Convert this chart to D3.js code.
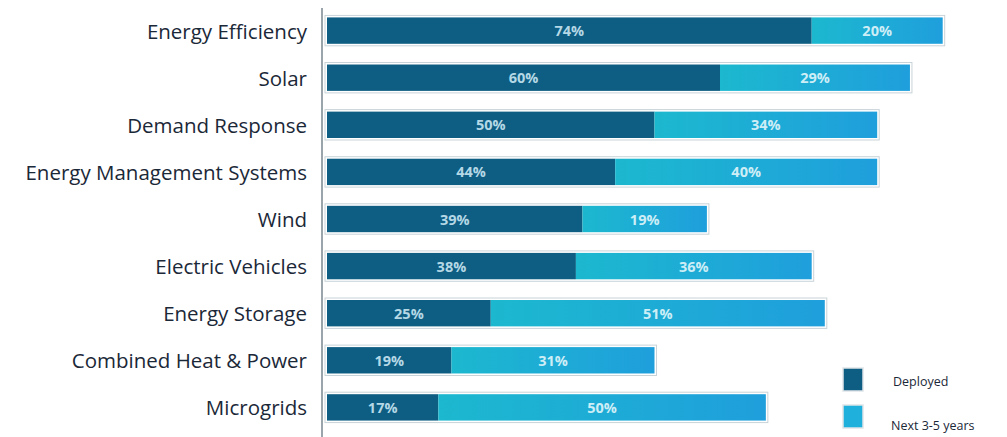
<!DOCTYPE html>
<html><head><meta charset="utf-8">
<script src="https://cdn.jsdelivr.net/npm/d3@7"></script>
<style>body{margin:0;background:#fff}svg{display:block}</style>
</head><body>
<svg id="c" width="1007" height="437"></svg>
<script>
const categories = ["Energy Efficiency","Solar","Demand Response","Energy Management Systems","Wind","Electric Vehicles","Energy Storage","Combined Heat & Power","Microgrids"];
const deployed = [74,60,50,44,39,38,25,19,17];
const nextYears = [20,29,34,40,19,36,51,31,50];
const seriesNames = ["Deployed","Next 3-5 years"];
const colors = ["#0d5e82","#1eaed8"];

const svg = d3.select("#c");
const x = d3.scaleLinear().domain([0,100]).range([327, 982]);
const y = d3.scaleBand().domain(categories).range([8, 430]).paddingInner(0.44).paddingOuter(0.2);

const defs = svg.append("defs");
const g = defs.append("linearGradient").attr("id","lg").attr("x1","0").attr("x2","1");
g.append("stop").attr("offset","0").attr("stop-color","#1cb8cf");
g.append("stop").attr("offset","1").attr("stop-color","#1f9fdc");

// category labels
svg.append("g").selectAll("text").data(categories).join("text")
  .attr("x", 307).attr("y", d => y(d) + y.bandwidth()/2)
  .attr("text-anchor","end").attr("dominant-baseline","central")
  .attr("font-family","'Open Sans', sans-serif").attr("font-size",20.5).attr("fill","#1b2838")
  .text(d => d);

// faint outlines
svg.append("g").selectAll("rect").data(categories).join("rect")
  .attr("x", x(0)-2).attr("y", d => y(d)-2)
  .attr("width", (d,i) => x(deployed[i]+nextYears[i]) - x(0) + 4)
  .attr("height", y.bandwidth()+4)
  .attr("fill","none").attr("stroke","#c8d3d8").attr("stroke-width",1);

const rows = svg.append("g").selectAll("g").data(categories).join("g");
rows.append("rect").attr("x", x(0)).attr("y", d => y(d))
  .attr("width", (d,i) => x(deployed[i]) - x(0)).attr("height", y.bandwidth())
  .attr("fill", colors[0]);
rows.append("rect").attr("x", (d,i) => x(deployed[i])).attr("y", d => y(d))
  .attr("width", (d,i) => x(deployed[i]+nextYears[i]) - x(deployed[i])).attr("height", y.bandwidth())
  .attr("fill", "url(#lg)");
rows.append("text").attr("x", (d,i) => (x(0)+x(deployed[i]))/2).attr("y", d => y(d)+y.bandwidth()/2)
  .attr("text-anchor","middle").attr("dominant-baseline","central")
  .attr("font-family","'Open Sans', sans-serif").attr("font-weight","bold").attr("font-size",14.5)
  .attr("fill","#b5d8e6").text((d,i) => deployed[i] + "%");
rows.append("text").attr("x", (d,i) => (x(deployed[i])+x(deployed[i]+nextYears[i]))/2).attr("y", d => y(d)+y.bandwidth()/2)
  .attr("text-anchor","middle").attr("dominant-baseline","central")
  .attr("font-family","'Open Sans', sans-serif").attr("font-weight","bold").attr("font-size",14.5)
  .attr("fill","#cdeef6").text((d,i) => nextYears[i] + "%");

// axis line
const ax = d3.axisLeft(y).tickSize(0).tickFormat("");
svg.append("g").attr("transform","translate(322,0)").call(ax)
  .call(s => s.select(".domain").attr("d","M0,8V437").attr("stroke","#9aa5ab").attr("stroke-width",2));

// legend
const leg = svg.append("g");
const ly = [368, 405];
seriesNames.forEach((n,i) => {
  leg.append("rect").attr("x",843).attr("y",ly[i]).attr("width",20).attr("height",23)
    .attr("fill", i===0 ? colors[0] : "#1fb0dc").attr("stroke","#dfe5e8").attr("stroke-width",1.5);
  leg.append("text").attr("x", i===0?893:891).attr("y", i===0?386:430)
    .attr("font-family","'Open Sans', sans-serif").attr("font-size",12.5).attr("fill","#1b2838").text(n);
});
</script>
</body></html>
